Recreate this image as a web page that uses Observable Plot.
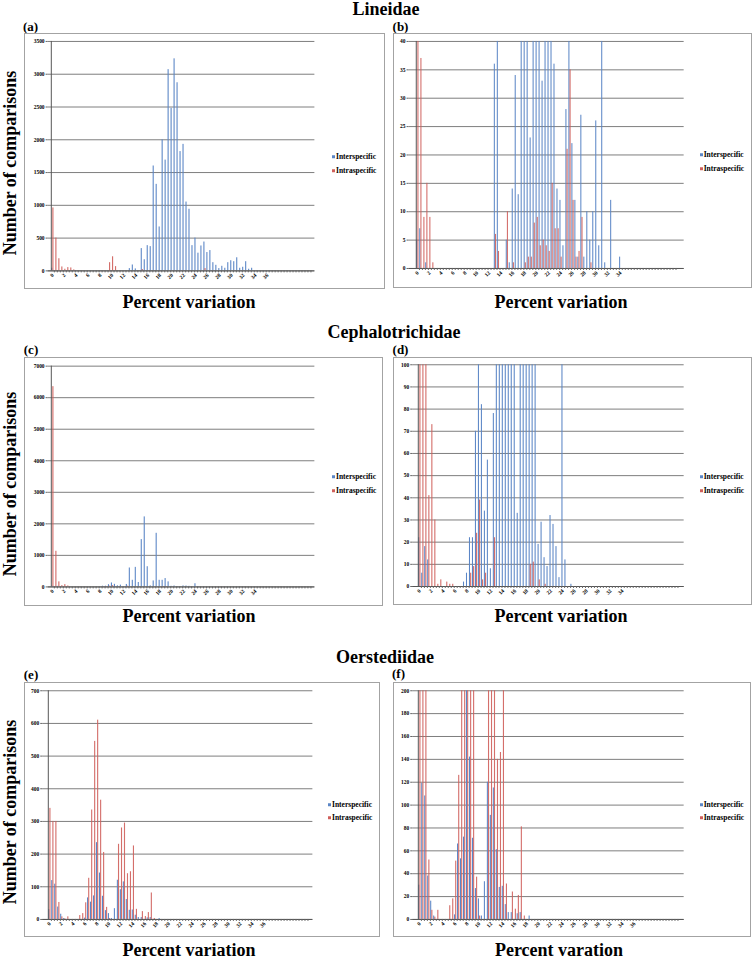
<!DOCTYPE html>
<html><head><meta charset="utf-8">
<script src="https://cdn.jsdelivr.net/npm/d3@7"></script>
<script src="https://cdn.jsdelivr.net/npm/@observablehq/plot@0.6"></script>
<style>
body{margin:0;background:#fff;}
#fig{position:relative;width:753px;height:959px;font-family:"Liberation Serif","Times New Roman",serif;color:#000;overflow:hidden;background:#fff}
.t{position:absolute;font-weight:bold;white-space:nowrap;line-height:1}
.box{position:absolute;box-sizing:border-box;border:1px solid #a3a3a3;background:#fff}
.box svg{position:absolute;left:-1px;top:-1px}
.leg{position:absolute;font-size:7.5px;font-weight:bold;line-height:1;white-space:nowrap;transform:translateY(-50%)}
.leg i{display:inline-block;width:3px;height:3px;margin-right:1px;vertical-align:middle;position:relative;top:-0.5px}
</style></head><body><div id="fig"></div>
<script>
// ---------- data ----------
const bins = [0,0.5,1,1.5,2,2.5,3,3.5,4,4.5,5,5.5,6,6.5,7,7.5,8,8.5,9,9.5,10,10.5,11,11.5,12,12.5,13,13.5,14,14.5,15,15.5,16,16.5,17,17.5,18,18.5,19,19.5,20,20.5,21,21.5,22,22.5,23,23.5,24,24.5,25,25.5,26,26.5,27,27.5,28,28.5,29,29.5,30,30.5,31,31.5,32,32.5,33,33.5,34,34.5,35,35.5,36,36.5,37,37.5,38,38.5,39,39.5,40,40.5,41,41.5,42,42.5,43];
const tickLabels36 = [0,2,4,6,8,10,12,14,16,18,20,22,24,26,28,30,32,34,36];
const tickLabels34 = [0,2,4,6,8,10,12,14,16,18,20,22,24,26,28,30,32,34];
const seriesNames = ["Interspecific", "Intraspecific"];

// (a) Lineidae
const lineidaeInterA = [40,0,0,0,0,0,0,0,0,0, 0,0,0,0,0,0,0,0,0,0, 0,0,0,0,0,0,35,90,30,0,
 340,170,385,370,1600,1320,670,2000,1690,3070, 2480,3235,2870,1820,1930,1050,940,385,500,270,
 380,440,280,310,125,85,35,70,40,125, 155,140,200,40,55,140,25,40,0,0, 0,0,0,0,0,0,0,0,0,0, 0,0,0,0,0,0,0];
const lineidaeIntraA = [960,500,185,60,25,50,45,15,0,0, 0,0,0,0,0,0,0,0,0,125, 215,65,0,0,0,0,0,0,0,0,
 20,0,0,0,0,0,0,0,0,0, 0,0,0,0,0,0,0,0,0,0, 0,35,0,0,0,0,0,0,0,0, 0,0,0,0,0,0,0,0,0,0, 0,0,0,0,0,0,0,0,0,0, 0,0,0,0,0,0,0];
// (b) Lineidae (values of 45 run above the 40 axis maximum)
const lineidaeInterB = [5,7,0,1,0,0,0,0,0,0, 0,0,0,0,0,0,0,0,0,0, 0,0,0,0,0,0,36,45,0,0,
 5,1,14,34,13,45,45,45,23,45, 45,45,33,45,45,45,36,14,12,4, 28,45,22,12,2,27,2,10,5,10,
 26,4,45,1,0,12,0,0,2,0, 0,0,0,0,0,0,0,0,0,0, 0,0,0,0,0,0,0];
const lineidaeIntraB = [45,37,9,15,9,1,0,0,0,0, 0,0,0,0,0,0,0,0,0,0, 0,0,0,0,0,0,6,3,0,0,
 10,0,1,0,0,0,1,2,2,8, 9,4,5,4,3,15,7,7,2,0, 21,35,12,2,3,9,0,0,1,0,
 0,0,0,0,0,0,0,0,0,0, 0,0,0,0,0,0,0,0,0,0, 0,0,0,0,0,0,0];
// (c)/(d) Cephalotrichidae
const cephaloInter = [22,6,18,12,0,0,0,0,0,0, 0,0,0,0,0,2,6,22,22,70, 125,82,34,57,8,78,600,210,620,140,
 1500,2220,640,33,190,1700,210,210,265,160, 19,29,13,9,32,28,18,4,100,12, 0,1,0,0,0,0,0,0,0,0,
 0,0,0,0,0,0,0,0,0,0, 0,0,0,0,0,0,0,0,0,0, 0,0,0,0,0,0,0];
const cephaloIntra = [6350,1130,160,41,73,30,1,3,0,2, 1,1,0,0,0,0,0,6,9,24, 39,3,6,0,0,22,0,0,0,0,
 0,0,0,0,0,0,0,10,11,0, 3,0,1,0,0,0,0,0,0,0, 0,0,0,0,0,0,0,0,0,0,
 0,0,0,0,0,0,0,0,0,0, 0,0,0,0,0,0,0,0,0,0, 0,0,0,0,0,0,0];
// (e)/(f) Oerstediidae
const oerstInter = [30,119,108,38,16,3,0,0,0,0, 0,0,4,66,53,72,235,142,71,27, 18,3,33,120,91,115,61,28,29,13,
 6,6,0,5,6,0,0,3,0,0, 0,0,0,0,0,0,0,0,0,0, 0,0,0,0,0,0,0,0,0,0,
 0,0,0,0,0,0,0,0,0,0, 0,0,0,0,0,0,0,0,0,0, 0,0,0,0,0,0,0];
const oerstIntra = [340,300,300,52,8,2,8,0,0,0, 12,18,51,126,335,545,610,365,205,37, 3,0,0,230,280,295,140,146,225,31,
 0,24,9,21,81,3,0,0,0,0, 0,0,0,0,0,0,0,0,0,0, 0,0,0,0,0,0,0,0,0,0,
 0,0,0,0,0,0,0,0,0,0, 0,0,0,0,0,0,0,0,0,0, 0,0,0,0,0,0,0];

const yTicksA = [0,500,1000,1500,2000,2500,3000,3500];
const yTicksB = [0,5,10,15,20,25,30,35,40];
const yTicksC = [0,1000,2000,3000,4000,5000,6000,7000];
const yTicksD = [0,10,20,30,40,50,60,70,80,90,100];
const yTicksE = [0,100,200,300,400,500,600,700];
const yTicksF = [0,20,40,60,80,100,120,140,160,180,200];

// ---------- layout ----------
const BLUE = "#5b86c6", RED = "#cf5f5b";
const fig = document.getElementById("fig");

function addText(txt, cx, cy, size, rot) {
  const d = document.createElement("div");
  d.className = "t";
  d.textContent = txt;
  d.style.left = cx + "px"; d.style.top = cy + "px";
  d.style.fontSize = size + "px";
  d.style.transform = "translate(-50%,-50%)" + (rot ? " rotate(" + rot + "deg)" : "");
  fig.appendChild(d);
}

const panels = [
  {label:"(a)", lx:30.5, ly:26, x:24, y:33, w:361, h:256, mL:23.7, mR:69, mT:8, mB:17.3, yTicks:yTicksA, xTicks:tickLabels36, blue:lineidaeInterA, red:lineidaeIntraA, legX:307, legY:123, xl:"Percent variation", xlx:189, xly:302},
  {label:"(b)", lx:400.5, ly:26, x:392.7, y:33, w:359, h:255, mL:15.6, mR:66.7, mT:8, mB:18.7, yTicks:yTicksB, xTicks:tickLabels34, blue:lineidaeInterB, red:lineidaeIntraB, legX:306, legY:121, xl:"Percent variation", xlx:561, xly:302},
  {label:"(c)", lx:31, ly:349, x:24, y:357, w:359, h:249, mL:23.7, mR:67, mT:8.7, mB:18.3, yTicks:yTicksC, xTicks:tickLabels34, blue:cephaloInter, red:cephaloIntra, legX:307, legY:119, xl:"Percent variation", xlx:189, xly:616},
  {label:"(d)", lx:400.5, ly:349, x:392.7, y:357, w:359, h:248, mL:19.3, mR:66.7, mT:7.3, mB:17.7, yTicks:yTicksD, xTicks:tickLabels34, blue:cephaloInter, red:cephaloIntra, legX:306, legY:119, xl:"Percent variation", xlx:561, xly:616},
  {label:"(e)", lx:31, ly:674, x:24, y:681.7, w:356, h:255.3, mL:18.3, mR:66, mT:8.3, mB:17, yTicks:yTicksE, xTicks:tickLabels36, blue:oerstInter, red:oerstIntra, legX:303, legY:122, xl:"Percent variation", xlx:189, xly:950},
  {label:"(f)", lx:398.5, ly:673, x:392.7, y:681.7, w:358, h:255.3, mL:19.3, mR:65.7, mT:8.3, mB:17, yTicks:yTicksF, xTicks:tickLabels36, blue:oerstInter, red:oerstIntra, legX:306, legY:122, xl:"Percent varation", xlx:559, xly:950}
];

addText("Lineidae", 386, 9, 18);
addText("Cephalotrichidae", 394, 332, 18);
addText("Oerstediidae", 385, 657, 18);
addText("Number of comparisons", 9.5, 163, 18, -90);
addText("Number of comparisons", 9.5, 484, 18, -90);
addText("Number of comparisons", 9.5, 812, 18, -90);

for (const p of panels) {
  addText(p.label, p.lx, p.ly, 13);
  addText(p.xl, p.xlx, p.xly, 18);
  const box = document.createElement("div");
  box.className = "box";
  Object.assign(box.style, {left: p.x + "px", top: p.y + "px", width: p.w + "px", height: p.h + "px"});
  const bw = (p.w - p.mL - p.mR) / bins.length;
  const rows = bins.map((b, i) => ({bin: b, inter: p.blue[i], intra: p.red[i]}));
  const ymax = p.yTicks[p.yTicks.length - 1];
  const svg = Plot.plot({
    width: p.w, height: p.h,
    marginLeft: p.mL, marginRight: p.mR, marginTop: p.mT, marginBottom: p.mB,
    style: {fontFamily: "'Liberation Serif', serif", fontSize: "5.5px", fontWeight: "bold", background: "transparent", color: "#000", overflow: "visible"},
    x: {type: "band", domain: bins, padding: 0, label: null},
    y: {domain: [0, ymax], clamp: true, label: null},
    marks: [
      Plot.gridY(p.yTicks, {stroke: "#7d7d7d", strokeOpacity: 1, strokeWidth: 1}),
      Plot.barY(rows, {x: "bin", y: "inter", fill: BLUE, insetLeft: bw * 0.12, insetRight: bw * 0.5}),
      Plot.barY(rows, {x: "bin", y: "intra", fill: RED, fillOpacity: 0.9, insetLeft: bw * 0.48, insetRight: bw * 0.12}),
      Plot.ruleY([0], {stroke: "#555"}),
      Plot.ruleX([bins[0]], {dx: -bw / 2, stroke: "#555"}),
      Plot.axisY(p.yTicks, {tickSize: 2, tickPadding: 1.5, stroke: "#666", tickFormat: d => String(d)}),
      Plot.axisX(bins, {tickSize: 2, tickFormat: () => "", dx: bw / 2, stroke: "#666"}),
      Plot.axisX(p.xTicks, {tickSize: 0, tickPadding: 3.5, tickRotate: -45, tickFormat: d => String(d)})
    ]
  });
  box.appendChild(svg);
  seriesNames.forEach((name, i) => {
    const l = document.createElement("div");
    l.className = "leg";
    l.style.left = p.legX + "px";
    l.style.top = (p.legY + i * 13.5) + "px";
    l.innerHTML = '<i style="background:' + (i === 0 ? BLUE : RED) + '"></i>' + name;
    box.appendChild(l);
  });
  fig.appendChild(box);
}
</script></body></html>
